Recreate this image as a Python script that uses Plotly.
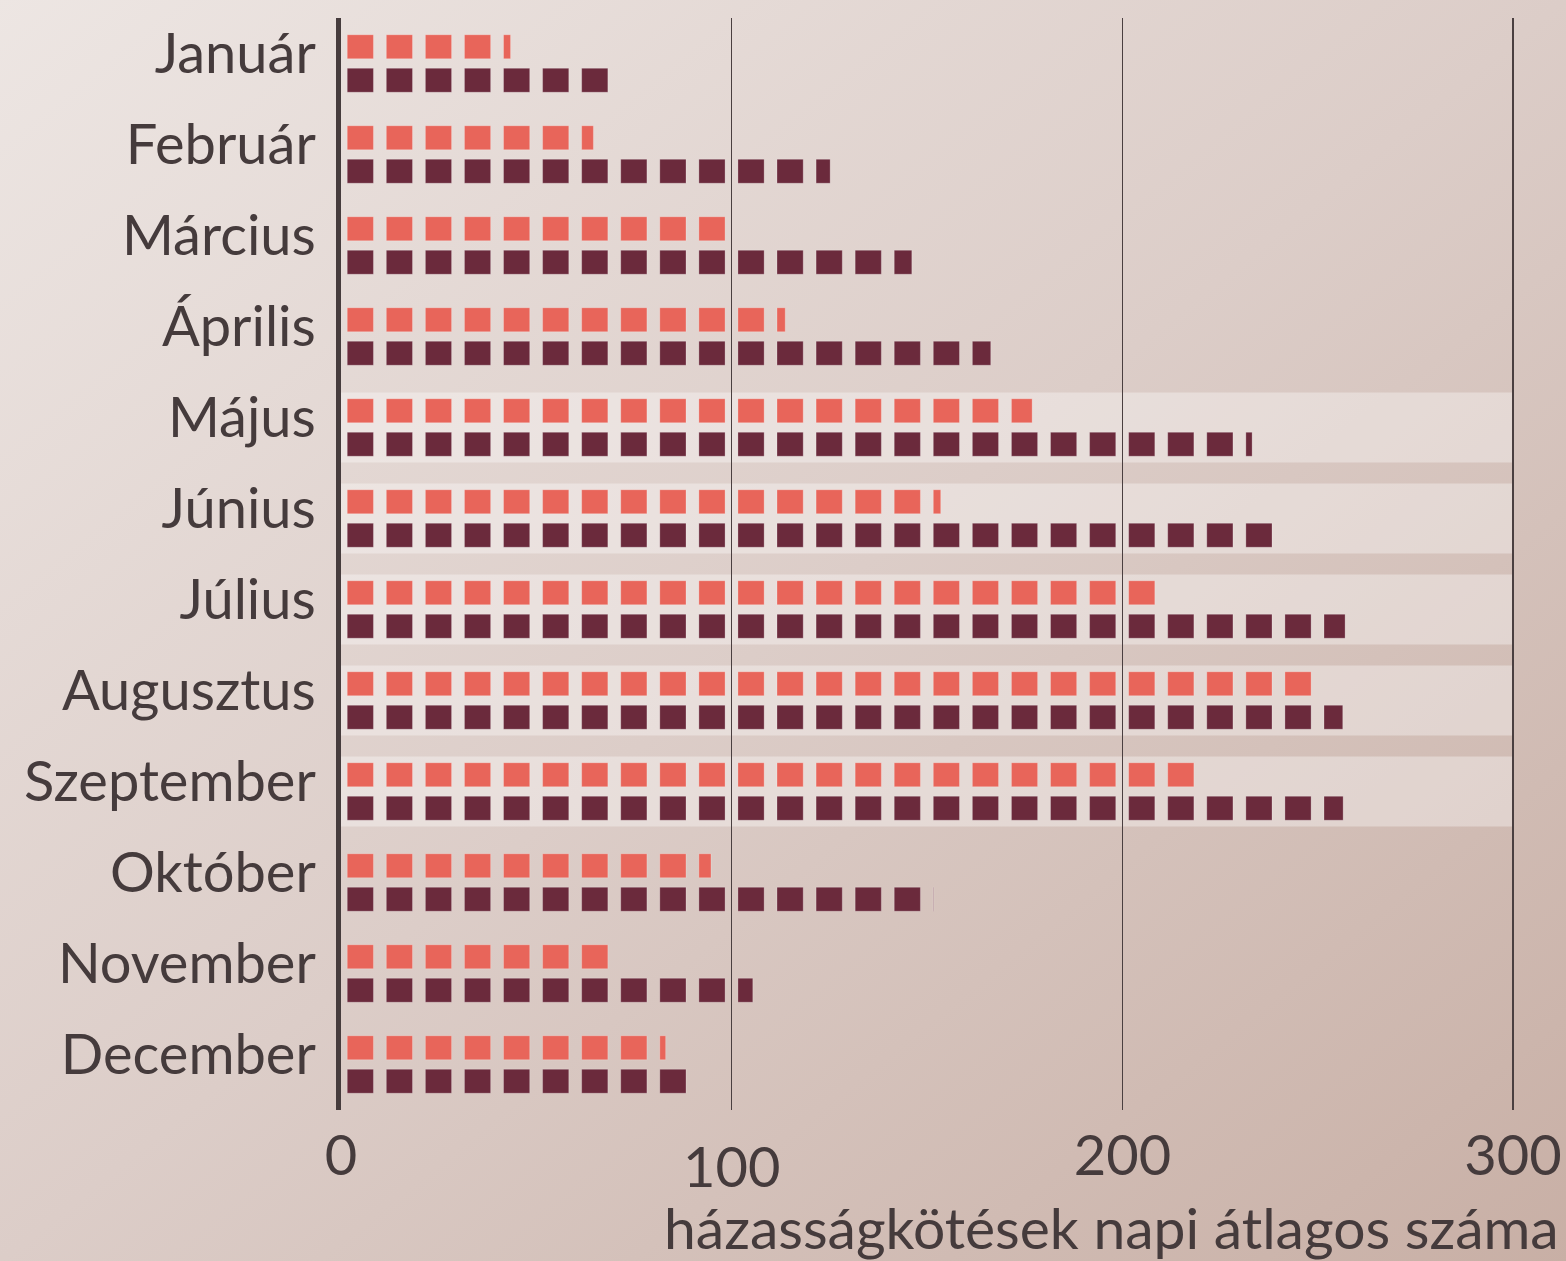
import base64
import plotly.graph_objects as go

months = ["Január", "Február", "Március", "Április", "Május", "Június",
          "Július", "Augusztus", "Szeptember", "Október", "November", "December"]
series_light = [43.4, 64.6, 99.0, 113.7, 176.9, 153.5, 209.0, 249.5, 219.5, 94.7, 69.0, 83.1]
series_dark = [69.5, 125.2, 146.1, 166.3, 233.2, 239.5, 257.0, 256.4, 256.5, 151.7, 105.4, 89.5]
highlighted = ["Május", "Június", "Július", "Augusztus", "Szeptember"]
x_ticks = [0, 100, 200, 300]
x_tick_labels = ["0", "<span style='baseline-shift:-12px'>100</span>", "200", "300"]
x_title = "házasságkötések napi átlagos száma"

UNIT = 10.0      # each square = 10 units
SQ_START = 1.6   # gap before the square inside a slot
SQ_LEN = 6.7     # square length inside a slot
X_MAX = 301

W, H = 1566, 1261
ML, MR, MT, MB = 341, 49, 18, 151
PW, PH = W - ML - MR, H - MT - MB

TEXT = "#453b3c"
FONT = "Lato"


def squares(values):
    ys, bases, lens = [], [], []
    for m, v in zip(months, values):
        k = 0
        while k * UNIT < v:
            s = k * UNIT + SQ_START
            e = min(k * UNIT + SQ_START + SQ_LEN, v)
            if e > s:
                ys.append(m)
                bases.append(s)
                lens.append(e - s)
            k += 1
    return ys, bases, lens


fig = go.Figure()
for vals, col in [(series_light, "#e8655a"), (series_dark, "#6b2a3c")]:
    ys, bases, lens = squares(vals)
    fig.add_trace(go.Bar(
        y=ys, x=lens, base=bases, orientation="h",
        marker=dict(color=col, line=dict(width=0.8, color="rgba(255,255,255,0.3)")),
        hoverinfo="skip", showlegend=False,
    ))

# highlighted row bands
for m in highlighted:
    i = months.index(m)
    fig.add_shape(type="rect", xref="x", yref="y", x0=0, x1=300,
                  y0=i - 0.385, y1=i + 0.385,
                  fillcolor="rgba(255,255,255,0.35)", line=dict(width=0),
                  layer="below")

# gradient background
svg = (f'<svg xmlns="http://www.w3.org/2000/svg" width="{W}" height="{H}" '
       f'viewBox="0 0 {W} {H}" preserveAspectRatio="none">'
       '<defs><linearGradient id="g" x1="0" y1="0" x2="1" y2="1">'
       '<stop offset="0" stop-color="#ede6e3"/>'
       '<stop offset="0.5" stop-color="#dccdc8"/>'
       '<stop offset="1" stop-color="#c8afa5"/>'
       '</linearGradient></defs>'
       f'<rect width="{W}" height="{H}" fill="url(#g)"/></svg>')
src = "data:image/svg+xml;base64," + base64.b64encode(svg.encode()).decode()
fig.add_layout_image(dict(
    source=src, xref="paper", yref="paper",
    x=-(ML + 4) / PW, y=1 + (MT + 4) / PH, sizex=(W + 8) / PW, sizey=(H + 8) / PH,
    xanchor="left", yanchor="top", sizing="stretch", layer="below",
))

fig.add_annotation(
    text=x_title, xref="paper", yref="paper",
    x=1 + (1561 - (ML + PW)) / PW, y=-(1227 - (MT + PH)) / PH,
    xanchor="right", yanchor="middle", showarrow=False,
    font=dict(family=FONT, size=57, color=TEXT),
)

fig.update_layout(
    width=W, height=H, autosize=False,
    margin=dict(l=ML, r=MR, t=MT, b=MB, pad=0, autoexpand=False),
    paper_bgcolor="#d9c9c3", plot_bgcolor="rgba(0,0,0,0)",
    barmode="group", bargap=0.264, bargroupgap=0.284,
    font=dict(family=FONT, color=TEXT),
    xaxis=dict(range=[0, X_MAX], tickvals=x_ticks, ticktext=x_tick_labels,
               showgrid=True, gridcolor="#4a3f40", gridwidth=1.3,
               zeroline=False, showline=False, ticks="", automargin=False,
               tickfont=dict(family=FONT, size=56, color=TEXT),
               ticklabelstandoff=8, fixedrange=True),
    yaxis=dict(categoryorder="array", categoryarray=months, autorange="reversed",
               showgrid=False, zeroline=False, showline=True, linecolor="#463c3d",
               linewidth=5, ticks="", automargin=False,
               tickfont=dict(family=FONT, size=56, color=TEXT),
               ticklabelstandoff=9, ticklabelshift=10, fixedrange=True),
)

fig.write_html(
    "out.html",
    config={"displayModeBar": False, "responsive": False, "staticPlot": True},
    post_script=("document.body.style.margin='0';"
                 "document.body.style.padding='0';"
                 "document.documentElement.style.overflow='hidden';"),
)
